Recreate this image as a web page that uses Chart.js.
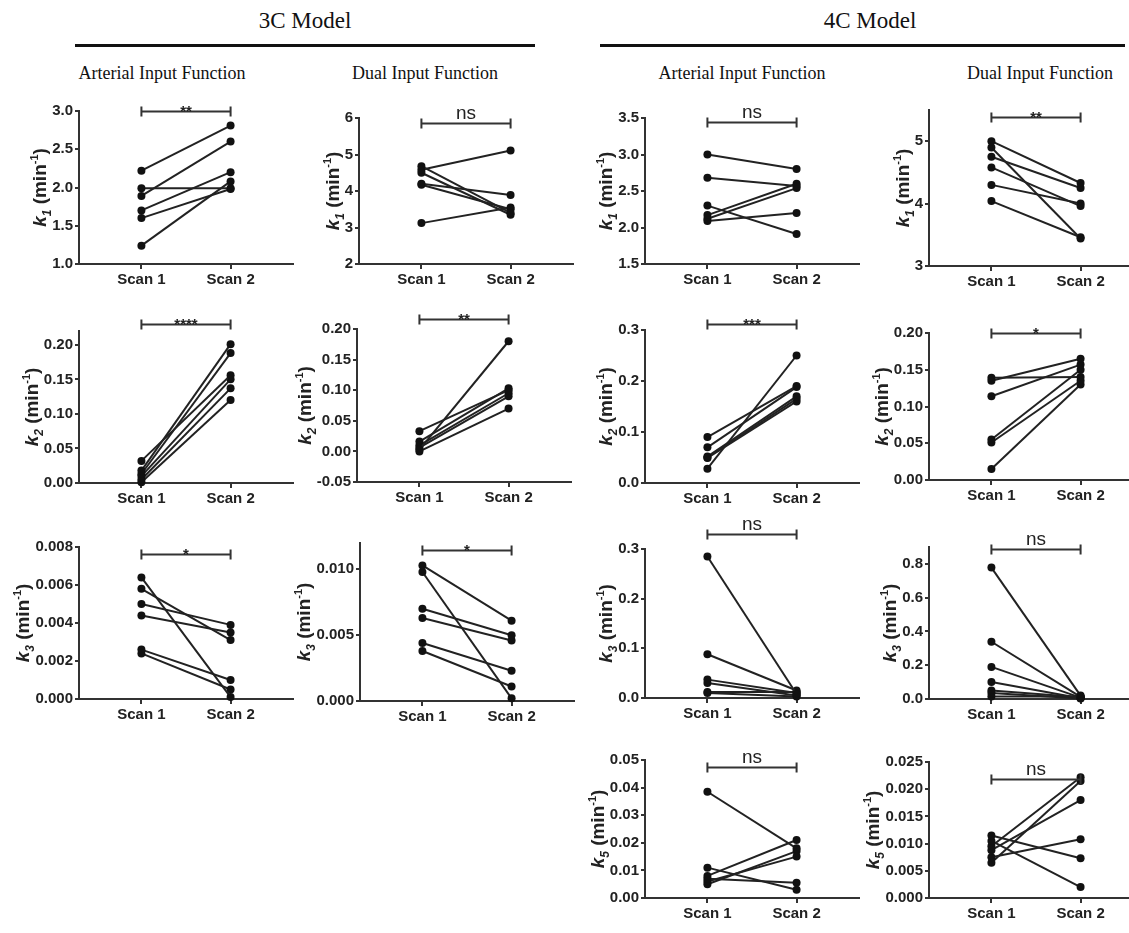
<!DOCTYPE html>
<html>
<head>
<meta charset="utf-8">
<script src="https://cdn.jsdelivr.net/npm/chart.js@4.4.1/dist/chart.umd.min.js"></script>
<style>
  html, body { margin: 0; padding: 0; background: #fff; }
  body { width: 1129px; height: 933px; position: relative; overflow: hidden; }
  canvas { position: absolute; }
  .hdr { position: absolute; font-family: 'Liberation Serif', 'Times New Roman', serif; color: #111; white-space: nowrap; transform: translateX(-50%); }
  .model { font-size: 23px; top: 8px; }
  .sub { font-size: 18px; top: 63px; }
  .rule { position: absolute; height: 3px; background: #111; top: 44px; }
</style>
</head>
<body>
<div class="hdr model" style="left:305px">3C Model</div>
<div class="hdr model" style="left:870px">4C Model</div>
<div class="rule" style="left:75px; width:460px"></div>
<div class="rule" style="left:600px; width:525px"></div>
<div class="hdr sub" style="left:162px">Arterial Input Function</div>
<div class="hdr sub" style="left:425px">Dual Input Function</div>
<div class="hdr sub" style="left:742px">Arterial Input Function</div>
<div class="hdr sub" style="left:1040px">Dual Input Function</div>

<script>
// ---- data: one value per subject, scan 1 / scan 2 ----
const scanLabels = ['Scan 1', 'Scan 2'];

// 3C model, arterial input function
const c3Aif_k1_scan1 = [2.22, 1.89, 1.70, 1.99, 1.60, 1.24];
const c3Aif_k1_scan2 = [2.81, 2.60, 2.20, 1.99, 1.98, 2.08];
const c3Aif_k2_scan1 = [0.032, 0.018, 0.013, 0.010, 0.005, 0.001];
const c3Aif_k2_scan2 = [0.156, 0.201, 0.188, 0.150, 0.137, 0.120];
const c3Aif_k3_scan1 = [0.0064, 0.0058, 0.0050, 0.0044, 0.0026, 0.0024];
const c3Aif_k3_scan2 = [0.0001, 0.0031, 0.0039, 0.0035, 0.0010, 0.0005];

// 3C model, dual input function
const c3Dif_k1_scan1 = [4.68, 4.58, 4.50, 4.20, 4.17, 3.12];
const c3Dif_k1_scan2 = [3.40, 5.11, 3.35, 3.89, 3.50, 3.55];
const c3Dif_k2_scan1 = [0.003, 0.033, 0.016, 0.010, 0.006, 0.000];
const c3Dif_k2_scan2 = [0.180, 0.100, 0.103, 0.095, 0.090, 0.070];
const c3Dif_k3_scan1 = [0.0103, 0.0098, 0.0070, 0.0063, 0.0044, 0.0038];
const c3Dif_k3_scan2 = [0.0061, 0.0002, 0.0050, 0.0046, 0.0023, 0.0011];

// 4C model, arterial input function
const c4Aif_k1_scan1 = [3.00, 2.68, 2.30, 2.17, 2.12, 2.09];
const c4Aif_k1_scan2 = [2.80, 2.57, 1.91, 2.60, 2.54, 2.20];
const c4Aif_k2_scan1 = [0.028, 0.090, 0.070, 0.052, 0.050, 0.049];
const c4Aif_k2_scan2 = [0.250, 0.190, 0.188, 0.170, 0.165, 0.160];
const c4Aif_k3_scan1 = [0.285, 0.088, 0.037, 0.030, 0.012, 0.010];
const c4Aif_k3_scan2 = [0.008, 0.015, 0.010, 0.005, 0.012, 0.003];
const c4Aif_k5_scan1 = [0.0385, 0.011, 0.008, 0.007, 0.006, 0.005];
const c4Aif_k5_scan2 = [0.018, 0.003, 0.021, 0.0055, 0.015, 0.017];

// 4C model, dual input function
const c4Dif_k1_scan1 = [5.00, 4.90, 4.75, 4.58, 4.30, 4.04];
const c4Dif_k1_scan2 = [4.33, 3.44, 4.25, 3.96, 4.00, 3.46];
const c4Dif_k2_scan1 = [0.139, 0.135, 0.114, 0.055, 0.051, 0.015];
const c4Dif_k2_scan2 = [0.140, 0.165, 0.157, 0.150, 0.135, 0.130];
const c4Dif_k3_scan1 = [0.778, 0.339, 0.190, 0.101, 0.051, 0.035, 0.015];
const c4Dif_k3_scan2 = [0.020, 0.012, 0.008, 0.005, 0.010, 0.003, 0.015];
const c4Dif_k5_scan1 = [0.0115, 0.0105, 0.0095, 0.0088, 0.0075, 0.0065];
const c4Dif_k5_scan2 = [0.0073, 0.0020, 0.0222, 0.0180, 0.0108, 0.0215];

// ---- y tick labels per panel ----
const ticksK1a = ['1.0', '1.5', '2.0', '2.5', '3.0'];
const ticksK1b = ['2', '3', '4', '5', '6'];
const ticksK1c = ['1.5', '2.0', '2.5', '3.0', '3.5'];
const ticksK1d = ['3', '4', '5'];
const ticksK2a = ['0.00', '0.05', '0.10', '0.15', '0.20'];
const ticksK2b = ['-0.05', '0.00', '0.05', '0.10', '0.15', '0.20'];
const ticksK2c = ['0.0', '0.1', '0.2', '0.3'];
const ticksK3a = ['0.000', '0.002', '0.004', '0.006', '0.008'];
const ticksK3b = ['0.000', '0.005', '0.010'];
const ticksK3c = ['0.0', '0.1', '0.2', '0.3'];
const ticksK3d = ['0.0', '0.2', '0.4', '0.6', '0.8'];
const ticksK5a = ['0.00', '0.01', '0.02', '0.03', '0.04', '0.05'];
const ticksK5b = ['0.000', '0.005', '0.010', '0.015', '0.020', '0.025'];

// significance labels (paired test result per panel)
const sigLabels = ['**', 'ns', 'ns', '**', '****', '**', '***', '*', '*', '*', 'ns', 'ns', 'ns', 'ns'];

const SANS = "'Liberation Sans', Arial, Helvetica, sans-serif";
const INK = '#222';

// panel list: data refs + axis range + where it sits on the page
const panels = [
  { s1: c3Aif_k1_scan1, s2: c3Aif_k1_scan2, sub: '1', ticks: ticksK1a, min: 1, max: 3, br: 3.0, ax: 79, top: 111, bot: 264 },
  { s1: c3Dif_k1_scan1, s2: c3Dif_k1_scan2, sub: '1', ticks: ticksK1b, min: 2, max: 6, br: 5.87, ax: 359, top: 118, bot: 264 },
  { s1: c4Aif_k1_scan1, s2: c4Aif_k1_scan2, sub: '1', ticks: ticksK1c, min: 1.5, max: 3.5, br: 3.45, ax: 645, top: 118, bot: 264 },
  { s1: c4Dif_k1_scan1, s2: c4Dif_k1_scan2, sub: '1', ticks: ticksK1d, min: 3, max: 5.5, br: 5.39, ax: 929, top: 110, bot: 266 },

  { s1: c3Aif_k2_scan1, s2: c3Aif_k2_scan2, sub: '2', ticks: ticksK2a, min: 0, max: 0.22, br: 0.23, ax: 79, top: 331, bot: 483 },
  { s1: c3Dif_k2_scan1, s2: c3Dif_k2_scan2, sub: '2', ticks: ticksK2b, min: -0.05, max: 0.20, br: 0.217, ax: 357, top: 329, bot: 482 },
  { s1: c4Aif_k2_scan1, s2: c4Aif_k2_scan2, sub: '2', ticks: ticksK2c, min: 0, max: 0.3, br: 0.312, ax: 645, top: 330, bot: 483 },
  { s1: c4Dif_k2_scan1, s2: c4Dif_k2_scan2, sub: '2', ticks: ticksK2a, min: 0, max: 0.20, br: 0.20, ax: 929, top: 333, bot: 480 },

  { s1: c3Aif_k3_scan1, s2: c3Aif_k3_scan2, sub: '3', ticks: ticksK3a, min: 0, max: 0.008, br: 0.00765, ax: 79, top: 547, bot: 699 },
  { s1: c3Dif_k3_scan1, s2: c3Dif_k3_scan2, sub: '3', ticks: ticksK3b, min: 0, max: 0.012, br: 0.0115, ax: 360, top: 543, bot: 701 },
  { s1: c4Aif_k3_scan1, s2: c4Aif_k3_scan2, sub: '3', ticks: ticksK3c, min: 0, max: 0.3, br: 0.331, ax: 645, top: 549, bot: 698 },
  { s1: c4Dif_k3_scan1, s2: c4Dif_k3_scan2, sub: '3', ticks: ticksK3d, min: 0, max: 0.9, br: 0.887, ax: 929, top: 547, bot: 699 },

  { s1: c4Aif_k5_scan1, s2: c4Aif_k5_scan2, sub: '5', ticks: ticksK5a, min: 0, max: 0.05, br: 0.0475, ax: 645, top: 760, bot: 898 },
  { s1: c4Dif_k5_scan1, s2: c4Dif_k5_scan2, sub: '5', ticks: ticksK5b, min: 0, max: 0.025, br: 0.0219, ax: 929, top: 762, bot: 898 },
];

const Y_W = 75, X_H = 30, PAD_T = 45, PAD_R = 4, AREA_W = 214;

// y title "k_n (min^-1)" drawn by hand for the sub/superscripts
const yTitle = {
  id: 'yTitle',
  afterDraw(chart, args, o) {
    const { ctx, chartArea, scales } = chart;
    ctx.save();
    ctx.font = 'bold 15px ' + SANS;
    let maxW = 0;
    scales.y.ticks.forEach(t => { maxW = Math.max(maxW, ctx.measureText(t.label).width); });
    const cx = chartArea.left - 7 - maxW - 12;
    const cy = (chartArea.top + chartArea.bottom) / 2;
    const parts = [
      { t: 'k', f: 'italic bold 19px ' + SANS, dy: 0 },
      { t: o.sub, f: 'italic bold 12px ' + SANS, dy: 5 },
      { t: ' (min', f: 'bold 19px ' + SANS, dy: 0 },
      { t: '-1', f: 'bold 11px ' + SANS, dy: -8 },
      { t: ')', f: 'bold 19px ' + SANS, dy: 0 },
    ];
    let total = 0;
    parts.forEach(p => { ctx.font = p.f; p.w = ctx.measureText(p.t).width; total += p.w; });
    ctx.translate(cx, cy);
    ctx.rotate(-Math.PI / 2);
    ctx.fillStyle = INK;
    ctx.textBaseline = 'alphabetic';
    let x = -total / 2;
    parts.forEach(p => { ctx.font = p.f; ctx.fillText(p.t, x, 7 + p.dy); x += p.w; });
    ctx.restore();
  }
};

// significance bracket between scan 1 and scan 2
const bracket = {
  id: 'bracket',
  afterDatasetsDraw(chart, args, o) {
    const { ctx, scales } = chart;
    const y = Math.round(scales.y.getPixelForValue(o.value)) + 0.5;
    const x0 = scales.x.getPixelForValue(0), x1 = scales.x.getPixelForValue(1);
    ctx.save();
    ctx.strokeStyle = '#333';
    ctx.lineWidth = 2;
    ctx.beginPath();
    ctx.moveTo(x0, y); ctx.lineTo(x1, y);
    ctx.moveTo(x0, y - 5); ctx.lineTo(x0, y + 5);
    ctx.moveTo(x1, y - 5); ctx.lineTo(x1, y + 5);
    ctx.stroke();
    ctx.fillStyle = INK;
    ctx.textAlign = 'center';
    ctx.textBaseline = 'alphabetic';
    if (o.text === 'ns') {
      ctx.font = '19px ' + SANS;
      ctx.fillText(o.text, (x0 + x1) / 2, y - 5);
    } else {
      ctx.font = 'bold 15px ' + SANS;
      ctx.fillText(o.text, (x0 + x1) / 2, y + 4);
    }
    ctx.restore();
  }
};

panels.forEach((p, i) => {
  const cv = document.createElement('canvas');
  const w = Y_W + AREA_W + PAD_R;
  const h = PAD_T + (p.bot - p.top) + X_H;
  cv.width = w; cv.height = h;
  cv.style.left = (p.ax - Y_W) + 'px';
  cv.style.top = (p.top - PAD_T) + 'px';
  document.body.appendChild(cv);

  const datasets = p.s1.map((v, j) => ({
    data: [{ x: 0, y: v }, { x: 1, y: p.s2[j] }],
    showLine: true,
    borderColor: INK,
    borderWidth: 2,
    pointRadius: 4,
    pointBackgroundColor: '#111',
    pointBorderWidth: 0,
    clip: false,
  }));
  const tickVals = p.ticks.map(Number);

  new Chart(cv, {
    type: 'scatter',
    data: { datasets },
    plugins: [yTitle, bracket],
    options: {
      responsive: false,
      animation: false,
      devicePixelRatio: 1,
      layout: { padding: { top: PAD_T, right: PAD_R, left: 0, bottom: 0 } },
      plugins: {
        legend: { display: false },
        tooltip: { enabled: false },
        yTitle: { sub: p.sub },
        bracket: { value: p.br, text: sigLabels[i] },
      },
      scales: {
        x: {
          type: 'linear', min: -0.7, max: 1.7,
          afterBuildTicks: s => { s.ticks = [{ value: 0 }, { value: 1 }]; },
          afterFit: s => { s.height = X_H; },
          ticks: {
            callback: v => scanLabels[v],
            color: INK, padding: 2, maxRotation: 0, autoSkip: false,
            font: { family: SANS, size: 15, weight: 'bold' },
          },
          grid: { drawOnChartArea: false, color: '#333', tickLength: 5, lineWidth: 2 },
          border: { color: '#333', width: 2 },
        },
        y: {
          type: 'linear', min: p.min, max: p.max,
          afterBuildTicks: s => { s.ticks = tickVals.map(v => ({ value: v })); },
          afterFit: s => { s.width = Y_W; },
          ticks: {
            callback: (v, k) => p.ticks[k],
            color: INK, padding: 2, autoSkip: false,
            font: { family: SANS, size: 15, weight: 'bold' },
          },
          grid: { drawOnChartArea: false, color: '#333', tickLength: 4, lineWidth: 2 },
          border: { color: '#333', width: 2 },
        },
      },
    },
  });
});
</script>
</body>
</html>
